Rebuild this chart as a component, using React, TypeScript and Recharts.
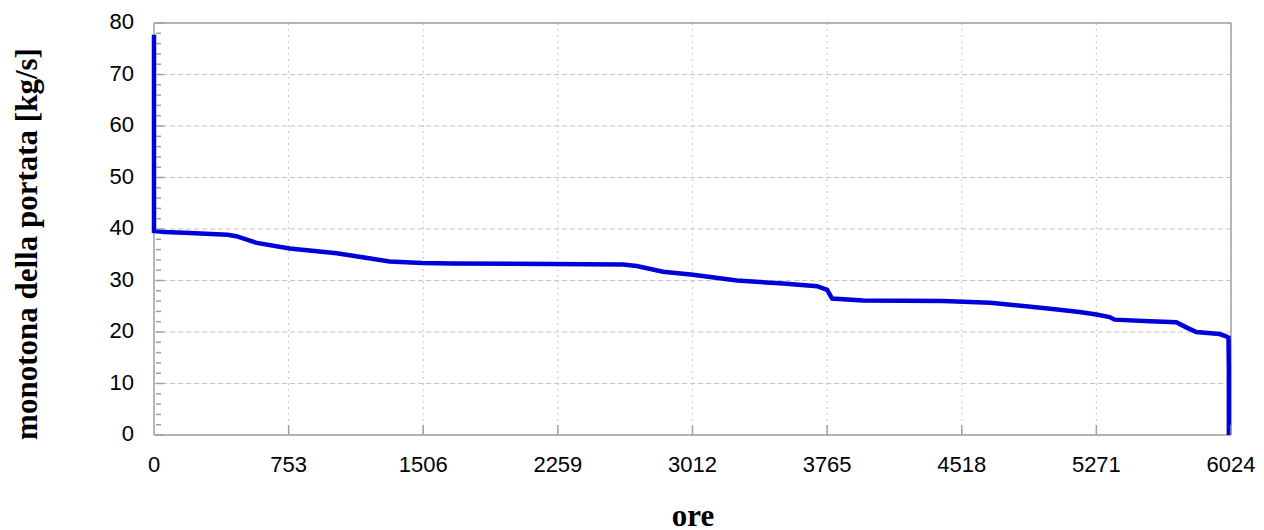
import { CartesianGrid, Line, LineChart, XAxis, YAxis } from 'recharts';

// duration curve of the mass flow
const hours = [
  0, 0, 60, 200, 411, 460, 574, 759, 1022, 1318, 1500, 1671, 2214, 2623, 2700,
  2847, 3015, 3261, 3519, 3709, 3765, 3793, 3966, 4414, 4677, 5013, 5177, 5271,
  5345, 5373, 5569, 5718, 5774, 5830, 5960, 5994, 6010, 6012, 6012,
];
const flow = [
  77.7, 39.6, 39.4, 39.2, 38.9, 38.6, 37.3, 36.2, 35.3, 33.7, 33.4, 33.3, 33.2,
  33.1, 32.8, 31.7, 31.1, 30.0, 29.4, 28.9, 28.2, 26.5, 26.1, 26.0, 25.7, 24.5,
  23.9, 23.4, 22.9, 22.4, 22.1, 21.9, 20.9, 20.0, 19.6, 19.2, 18.9, 13.0, 0,
];

const xTicks = [0, 753, 1506, 2259, 3012, 3765, 4518, 5271, 6024];
const yMajor = [0, 10, 20, 30, 40, 50, 60, 70, 80];
const yMinor = [
  0, 2, 4, 6, 8, 10, 12, 14, 16, 18, 20, 22, 24, 26, 28, 30, 32, 34, 36, 38, 40,
  42, 44, 46, 48, 50, 52, 54, 56, 58, 60, 62, 64, 66, 68, 70, 72, 74, 76, 78, 80,
];
const xFrame = [0, 6024];
const yFrame = [0, 80];

const data = hours.map((h, i) => ({ hours: h, flow: flow[i] }));

const axisColor = '#a0a0a0';
const sans = '"Liberation Sans", Arial, sans-serif';
const serif = '"Liberation Serif", "Times New Roman", serif';

const BottomTick = ({ x, y, payload }: any) => (
  <g>
    {payload.value !== 0 && (
      <line x1={x} x2={x} y1={y} y2={y - 10} stroke={axisColor} strokeWidth={1.5} />
    )}
    <text x={x} y={y + 37} textAnchor="middle" fontSize={22} fontFamily={sans} fill="#000">
      {payload.value}
    </text>
  </g>
);

const TopTick = ({ x, y, payload }: any) =>
  payload.value === 0 ? null : (
    <line x1={x} x2={x} y1={y} y2={y + 9} stroke={axisColor} strokeWidth={1.5} />
  );

const LeftTick = ({ x, y, payload }: any) => {
  const major = payload.value % 10 === 0;
  return (
    <g>
      <line x1={x + 2} x2={x + (major ? 10 : 7)} y1={y} y2={y} stroke={axisColor} strokeWidth={1.5} />
      {major && (
        <text x={x - 20} y={y + 6} textAnchor="end" fontSize={22} fontFamily={sans} fill="#000">
          {payload.value}
        </text>
      )}
    </g>
  );
};

const RightTick = ({ x, y, payload }: any) => {
  const major = payload.value % 10 === 0;
  return <line x1={x} x2={x - (major ? 10 : 6)} y1={y} y2={y} stroke={axisColor} strokeWidth={1.5} />;
};

export default function App() {
  return (
    <div style={{ position: 'absolute', left: 0, top: 0, width: 1264, height: 530, background: '#fff' }}>
      <LineChart
        width={1264}
        height={530}
        data={data}
        margin={{ top: 22, right: 32, bottom: 55, left: 94 }}
      >
        <CartesianGrid
          horizontal
          vertical={false}
          horizontalValues={yMajor}
          stroke="#c4c4c4"
          strokeDasharray="5 3"
        />
        <CartesianGrid
          horizontal={false}
          vertical
          verticalValues={xTicks}
          stroke="#c4c4c4"
          strokeDasharray="2 4"
        />
        {/* plot frame, kept under the curve */}
        <CartesianGrid
          horizontalValues={yFrame}
          verticalValues={xFrame}
          stroke={axisColor}
          strokeWidth={1.5}
        />
        <XAxis
          dataKey="hours"
          type="number"
          domain={[0, 6024]}
          ticks={xTicks}
          interval={0}
          height={40}
          tickSize={0}
          tickMargin={0}
          tickLine={false}
          tick={<BottomTick />}
          axisLine={false}
        />
        <XAxis
          xAxisId="top"
          orientation="top"
          type="number"
          domain={[0, 6024]}
          ticks={xTicks}
          interval={0}
          height={1}
          tickSize={0}
          tickMargin={0}
          tickLine={false}
          tick={<TopTick />}
          axisLine={false}
        />
        <YAxis
          type="number"
          domain={[0, 80]}
          ticks={yMinor}
          interval={0}
          width={60}
          tickSize={0}
          tickMargin={0}
          tickLine={false}
          tick={<LeftTick />}
          axisLine={false}
        />
        <YAxis
          yAxisId="right"
          orientation="right"
          type="number"
          domain={[0, 80]}
          ticks={yMinor}
          interval={0}
          width={1}
          tickSize={0}
          tickMargin={0}
          tickLine={false}
          tick={<RightTick />}
          axisLine={false}
        />
        <Line
          type="linear"
          dataKey="flow"
          stroke="#0000d8"
          strokeWidth={4.5}
          dot={false}
          isAnimationActive={false}
        />
      </LineChart>
      <div
        style={{
          position: 'absolute',
          left: 26,
          top: 244,
          transform: 'translate(-50%, -50%) rotate(-90deg)',
          whiteSpace: 'nowrap',
          fontFamily: serif,
          fontWeight: 'bold',
          fontSize: 31,
          lineHeight: 1,
        }}
      >
        monotona della portata [kg/s]
      </div>
      <div
        style={{
          position: 'absolute',
          left: 693,
          top: 515,
          transform: 'translate(-50%, -50%)',
          whiteSpace: 'nowrap',
          fontFamily: serif,
          fontWeight: 'bold',
          fontSize: 31,
          lineHeight: 1,
        }}
      >
        ore
      </div>
    </div>
  );
}
